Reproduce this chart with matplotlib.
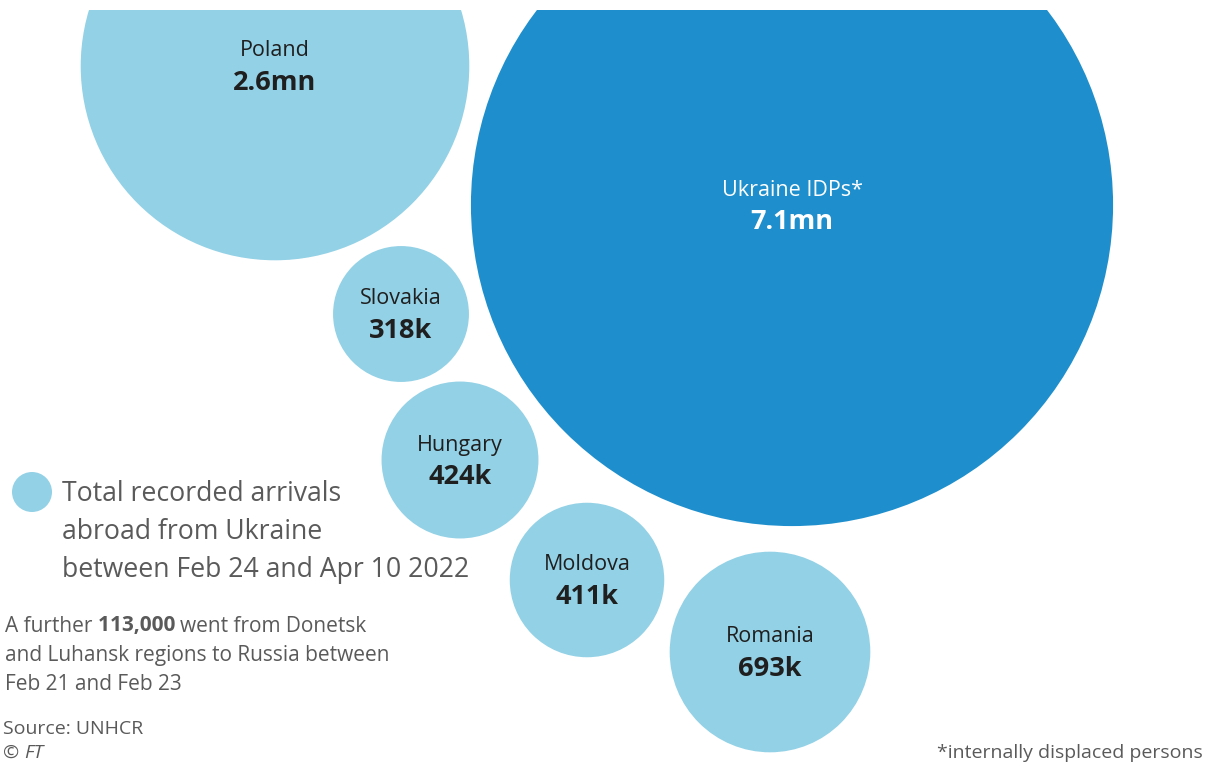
import numpy as np
import matplotlib
matplotlib.use("Agg")
import matplotlib.pyplot as plt
from matplotlib.patches import Circle

plt.rcParams["font.family"] = ["Open Sans", "DejaVu Sans"]

# data
countries = ["Poland", "Ukraine IDPs*", "Slovakia", "Hungary", "Moldova", "Romania"]
arrivals_mn = [2.6, 7.1, 0.318, 0.424, 0.411, 0.693]
value_labels = ["2.6mn", "7.1mn", "318k", "424k", "411k", "693k"]
is_internal = [False, True, False, False, False, False]

# layout (pixel positions of bubble centres)
centres = [(275, 66), (792, 205), (401, 314), (460, 460), (587, 580), (770, 652)]
PX_PER_SQRT_MN = 120.5

LIGHT = "#93d1e6"
DARK = "#1e8fcc"
TEXT_DARK = "#1f1f1f"
TEXT_GREY = "#5a5a5a"

fig = plt.figure(figsize=(12.18, 7.67), dpi=100)
fig.patch.set_facecolor("white")
ax = fig.add_axes([0, 0, 1, 757 / 767])
ax.set_xlim(0, 1218)
ax.set_ylim(767, 10)
ax.axis("off")

for name, val, lab, internal, (cx, cy) in zip(countries, arrivals_mn, value_labels,
                                             is_internal, centres):
    r = PX_PER_SQRT_MN * np.sqrt(val)
    ax.add_patch(Circle((cx, cy), r, facecolor=DARK if internal else LIGHT,
                        edgecolor="none"))
    tc = "white" if internal else TEXT_DARK
    ax.text(cx, cy - 15, name, ha="center", va="center", fontsize=15.5, color=tc)
    ax.text(cx, cy + 17, lab, ha="center", va="center", fontsize=19.5,
            fontweight="bold", color=tc)

# legend
ax.add_patch(Circle((32, 492), 20, facecolor=LIGHT, edgecolor="none", clip_on=False))
legend_lines = ["Total recorded arrivals", "abroad from Ukraine",
                "between Feb 24 and Apr 10 2022"]
for i, line in enumerate(legend_lines):
    ax.text(62, 494 + 38 * i, line, ha="left", va="center", fontsize=19.2,
            color=TEXT_GREY)

# note with bold figure
renderer = fig.canvas.get_renderer()
t1 = ax.text(5, 626, "A further ", ha="left", va="center", fontsize=15, color=TEXT_GREY)
w1 = t1.get_window_extent(renderer).width
t2 = ax.text(5 + w1, 626, "113,000 ", ha="left", va="center", fontsize=15,
             fontweight="bold", color=TEXT_GREY)
w2 = t2.get_window_extent(renderer).width
ax.text(5 + w1 + w2, 626, "went from Donetsk", ha="left", va="center",
        fontsize=15, color=TEXT_GREY)
ax.text(5, 656, "and Luhansk regions to Russia between", ha="left", va="center",
        fontsize=15, color=TEXT_GREY)
ax.text(5, 685, "Feb 21 and Feb 23", ha="left", va="center", fontsize=15,
        color=TEXT_GREY)

# footer
ax.text(3, 729, "Source: UNHCR", ha="left", va="center", fontsize=14, color=TEXT_GREY)
ax.text(3, 753, "© ", ha="left", va="center", fontsize=14, color=TEXT_GREY)
ax.text(24, 753, "FT", ha="left", va="center", fontsize=14, style="italic",
        color=TEXT_GREY)
ax.text(1203, 753, "*internally displaced persons", ha="right", va="center",
        fontsize=14, color=TEXT_GREY)

fig.savefig("out.png", dpi=100, facecolor="white")
